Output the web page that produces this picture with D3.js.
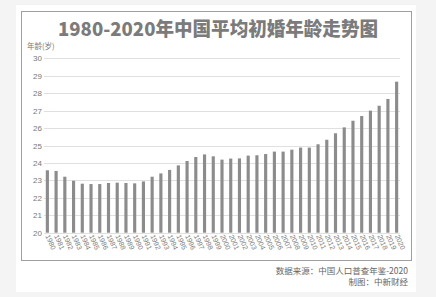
<!DOCTYPE html>
<html>
<head>
<meta charset="utf-8">
<script src="https://cdn.jsdelivr.net/npm/d3@7"></script>
<style>
  body { margin: 0; background: #f4f4f4; }
  svg { display: block; font-family: "Noto Sans CJK SC", "Noto Sans", sans-serif; }
</style>
</head>
<body>
<div id="chart"></div>
<script>
// data
var years = ["1980","1981","1982","1983","1984","1985","1986","1987","1988","1989",
  "1990","1991","1992","1993","1994","1995","1996","1997","1998","1999",
  "2000","2001","2002","2003","2004","2005","2006","2007","2008","2009",
  "2010","2011","2012","2013","2014","2015","2016","2017","2018","2019","2020"];
var ages = [23.58,23.54,23.21,22.98,22.81,22.79,22.79,22.85,22.87,22.85,
  22.83,22.94,23.21,23.40,23.60,23.86,24.11,24.34,24.49,24.38,
  24.19,24.25,24.26,24.42,24.44,24.51,24.65,24.65,24.76,24.88,
  24.88,25.07,25.33,25.70,26.04,26.42,26.69,27.00,27.28,27.67,28.66];
var yTicks = [20,21,22,23,24,25,26,27,28,29,30];

var W = 436, H = 297;

var svg = d3.select("#chart")
  .append("svg")
    .attr("width", W)
    .attr("height", H);

// white card and framed panel
svg.append("rect")
  .attr("x", 16).attr("y", 5)
  .attr("width", 400).attr("height", 287)
  .style("fill", "#ffffff");
svg.append("rect")
  .attr("x", 21.5).attr("y", 11.5)
  .attr("width", 390).attr("height", 249)
  .style("fill", "none")
  .style("stroke", "#a0a0a0")
  .style("stroke-width", 1);

// title
svg.append("text")
  .attr("x", 218).attr("y", 36)
  .attr("text-anchor", "middle")
  .attr("textLength", 320)
  .attr("lengthAdjust", "spacingAndGlyphs")
  .style("font-size", "19px")
  .style("font-weight", 900)
  .style("fill", "#7b7b7b")
  .text("1980-2020年中国平均初婚年龄走势图");

// scales
var x = d3.scaleBand()
  .domain(years)
  .range([43, 401])
  .paddingInner(0.64)
  .paddingOuter(0.32);

var y = d3.scaleLinear()
  .domain([20, 30])
  .range([232.7, 58.3]);

// gridlines
svg.append("g")
  .selectAll("line")
  .data(yTicks)
  .enter()
  .append("line")
    .attr("x1", 44).attr("x2", 400)
    .attr("y1", function (d) { return Math.round(y(d)) + 0.5; })
    .attr("y2", function (d) { return Math.round(y(d)) + 0.5; })
    .style("stroke", "#e0e0e0");

// Y axis labels
var yAxis = svg.append("g")
  .attr("transform", "translate(42,0)")
  .call(d3.axisLeft(y).tickValues(yTicks).tickSize(0).tickPadding(0));
yAxis.select(".domain").remove();
yAxis.selectAll("text")
  .style("font-size", "8px")
  .style("fill", "#777")
  .style("font-family", "'Liberation Sans', Arial, sans-serif");

svg.append("text")
  .attr("x", 27).attr("y", 49)
  .style("font-size", "7.5px")
  .style("fill", "#777")
  .text("年龄(岁)");

// bars
svg.append("g")
  .selectAll("rect")
  .data(ages)
  .enter()
  .append("rect")
    .attr("x", function (d, i) { return x(years[i]); })
    .attr("y", function (d) { return y(d); })
    .attr("width", x.bandwidth())
    .attr("height", function (d) { return y(20) - y(d); })
    .style("fill", "#8c8c8c");

// X axis labels, rotated
var xAxis = svg.append("g")
  .attr("transform", "translate(0,236)")
  .call(d3.axisBottom(x).tickSize(0).tickPadding(0));
xAxis.select(".domain").remove();
xAxis.selectAll("text")
  .attr("text-anchor", "start")
  .attr("dy", "0")
  .attr("y", 0)
  .attr("transform", "translate(-2,0) rotate(66)")
  .style("font-size", "7px")
  .style("fill", "#777")
  .style("font-family", "'Liberation Sans', Arial, sans-serif");

// source note
svg.append("text")
  .attr("x", 408).attr("y", 274)
  .attr("text-anchor", "end")
  .style("font-size", "8.5px")
  .style("fill", "#666")
  .text("数据来源：中国人口普查年鉴-2020");
svg.append("text")
  .attr("x", 408).attr("y", 285)
  .attr("text-anchor", "end")
  .style("font-size", "8.5px")
  .style("fill", "#666")
  .text("制图：中新财经");
</script>
</body>
</html>
